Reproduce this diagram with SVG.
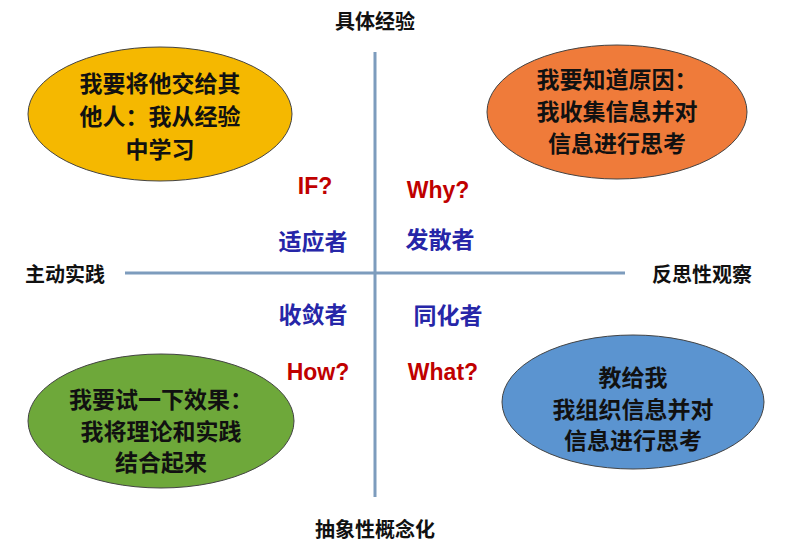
<svg xmlns="http://www.w3.org/2000/svg" width="789" height="553" viewBox="0 0 789 553">
<style>
text{font-family:"Liberation Sans","Noto Sans CJK SC",sans-serif;font-weight:bold;text-anchor:middle;dominant-baseline:central}
.n{font-size:23px;fill:#111}
.ax{font-size:20px;fill:#111}
.q{font-size:23px;fill:#c00000}
.r{font-size:23px;fill:#2626a8}
ellipse{stroke:#444;stroke-width:1}
</style>
<rect width="789" height="553" fill="#fff"/>
<g id="connectors" stroke="#7d9cbd" stroke-width="3">
<line x1="375" y1="52" x2="375" y2="497"/>
<line x1="125" y1="273" x2="625" y2="273"/>
</g>
<g id="n1"><ellipse cx="160" cy="114" rx="132" ry="67" fill="#f5b800"/>
<text class="n" x="160" y="84">我要将他交给其</text><text class="n" x="160" y="117">他人：我从经验</text><text class="n" x="160" y="150">中学习</text></g>
<g id="n2"><ellipse cx="617" cy="112" rx="130" ry="67" fill="#ef7b3a"/>
<text class="n" x="617" y="80">我要知道原因：</text><text class="n" x="617" y="112">我收集信息并对</text><text class="n" x="617" y="144">信息进行思考</text></g>
<g id="n3"><ellipse cx="161" cy="421" rx="133" ry="67" fill="#6ea83a"/>
<text class="n" x="161" y="400">我要试一下效果：</text><text class="n" x="161" y="432">我将理论和实践</text><text class="n" x="161" y="463">结合起来</text></g>
<g id="n4"><ellipse cx="633" cy="402" rx="131" ry="67" fill="#5b94d0"/>
<text class="n" x="633" y="378">教给我</text><text class="n" x="633" y="410">我组织信息并对</text><text class="n" x="633" y="441">信息进行思考</text></g>
<g id="labels">
<text class="ax" x="375" y="22">具体经验</text>
<text class="ax" x="375" y="530">抽象性概念化</text>
<text class="ax" x="65" y="275">主动实践</text>
<text class="ax" x="702" y="275">反思性观察</text>
<text class="q" x="315" y="186">IF?</text>
<text class="q" x="438" y="190">Why?</text>
<text class="r" x="313" y="242">适应者</text>
<text class="r" x="440" y="240">发散者</text>
<text class="r" x="313" y="315">收敛者</text>
<text class="r" x="448" y="316">同化者</text>
<text class="q" x="318" y="372">How?</text>
<text class="q" x="443" y="372">What?</text>
</g>
</svg>
